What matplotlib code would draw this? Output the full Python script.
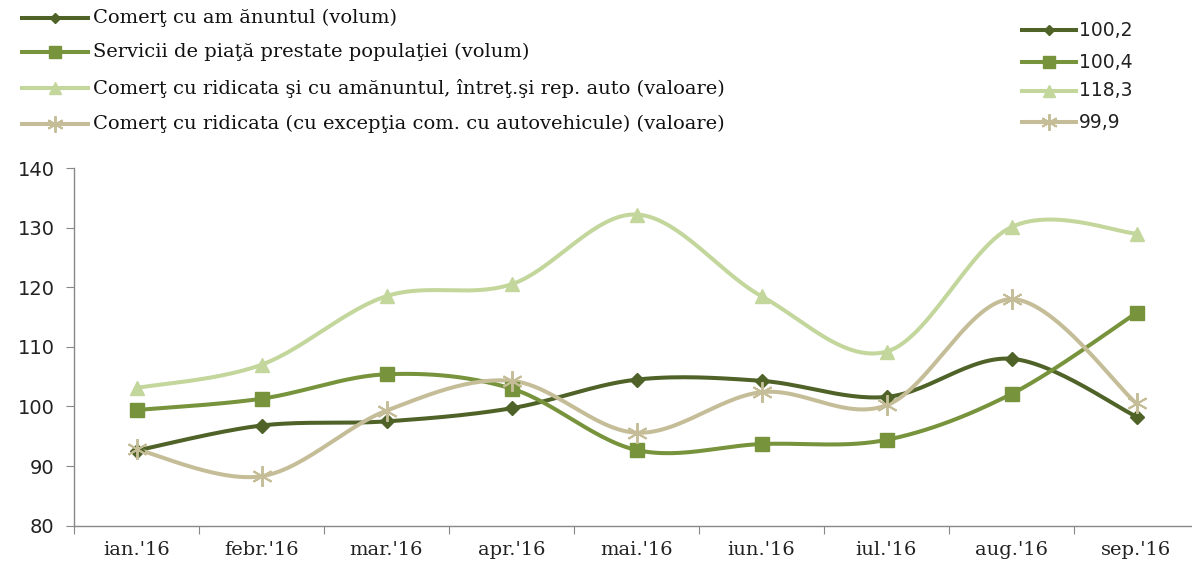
import numpy as np
import matplotlib
matplotlib.use("Agg")
import matplotlib.pyplot as plt
from matplotlib.lines import Line2D

categories = ["ian.'16", "febr.'16", "mar.'16", "apr.'16", "mai.'16", "iun.'16", "iul.'16", "aug.'16", "sep.'16"]
series_names = [
    "Comerţ cu am ănuntul (volum)",
    "Servicii de piaţă prestate populaţiei (volum)",
    "Comerţ cu ridicata şi cu amănuntul, întreţ.şi rep. auto (valoare)",
    "Comerţ cu ridicata (cu excepţia com. cu autovehicule) (valoare)",
]
latest_values = ["100,2", "100,4", "118,3", "99,9"]
retail_volume = [92.6, 96.8, 97.5, 99.7, 104.5, 104.3, 101.6, 108.0, 98.3]
services_volume = [99.4, 101.3, 105.4, 103.0, 92.7, 93.7, 94.4, 102.1, 115.7]
wholesale_retail_value = [103.1, 107.0, 118.5, 120.5, 132.2, 118.5, 109.2, 130.1, 129.0]
wholesale_value = [92.8, 88.3, 99.3, 104.3, 95.6, 102.4, 100.2, 118.0, 100.5]
y_ticks = [80, 90, 100, 110, 120, 130, 140]

colors = ["#4F6228", "#77933C", "#C3D69B", "#C4BD97"]
markers = ["D", "s", "^", (6, 2, 0)]
msizes = [7, 10, 10, 15]
medge = [1, 1, 1, 1.4]
series = [retail_volume, services_volume, wholesale_retail_value, wholesale_value]


def smooth(x, y, n=30):
    x = np.asarray(x, float)
    y = np.asarray(y, float)
    xs, ys = [], []
    m = len(x)
    for i in range(m - 1):
        p0 = np.array([x[max(i - 1, 0)], y[max(i - 1, 0)]])
        p1 = np.array([x[i], y[i]])
        p2 = np.array([x[i + 1], y[i + 1]])
        p3 = np.array([x[min(i + 2, m - 1)], y[min(i + 2, m - 1)]])
        c1 = p1 + (p2 - p0) / 6.0
        c2 = p2 - (p3 - p1) / 6.0
        t = np.linspace(0, 1, n)[:, None]
        pts = ((1 - t) ** 3) * p1 + 3 * ((1 - t) ** 2) * t * c1 + 3 * (1 - t) * t ** 2 * c2 + t ** 3 * p2
        xs.extend(pts[:, 0]); ys.extend(pts[:, 1])
    return xs, ys


fig = plt.figure(figsize=(11.92, 5.63), dpi=100)
ax = fig.add_axes([74 / 1192, 1 - 525.7 / 563, (1199 - 74) / 1192, (525.7 - 168) / 563])

xpos = np.arange(len(categories)) + 0.5
for vals, c, mk, ms, me in zip(series, colors, markers, msizes, medge):
    sx, sy = smooth(xpos, vals)
    ax.plot(sx, sy, color=c, lw=2.9, solid_capstyle="round", zorder=2)
    ax.plot(xpos, vals, linestyle="none", marker=mk, markersize=ms, color=c,
            markeredgecolor=c, markeredgewidth=me, zorder=3)

ax.set_xlim(0, len(categories))
ax.set_ylim(80, 140)
ax.set_yticks(y_ticks)
ax.set_yticklabels([str(v) for v in y_ticks], fontsize=14, family="DejaVu Sans", color="#222222")
ax.set_xticks(np.arange(len(categories) + 1))
ax.set_xticklabels([])
ax.set_xticks(xpos, minor=True)
ax.set_xticklabels(categories, minor=True, fontsize=14, family="DejaVu Serif", color="#222222")
ax.tick_params(axis="x", which="minor", length=0, pad=11)
ax.tick_params(axis="x", which="major", length=6, color="#888888", direction="out")
ax.tick_params(axis="y", length=6, color="#888888", direction="out", pad=8)
for s in ["top", "right"]:
    ax.spines[s].set_visible(False)
for s in ["left", "bottom"]:
    ax.spines[s].set_color("#888888")
    ax.spines[s].set_linewidth(1.0)

W, H = 1192, 563
# left legend
rows_left = [18, 52, 88, 124]
for name, c, mk, ms, me, yy in zip(series_names, colors, markers, msizes, medge, rows_left):
    fy = 1 - yy / H
    fig.add_artist(Line2D([22 / W, 88 / W], [fy, fy], color=c, lw=2.9, transform=fig.transFigure))
    fig.add_artist(Line2D([55 / W], [fy], marker=mk, markersize=ms * 0.8, color=c, linestyle="none",
                          markeredgewidth=me, transform=fig.transFigure))
    fig.text(93 / W, fy, name, fontsize=14, family="DejaVu Serif", va="center", ha="left",
             color="#111111")

# right legend
rows_right = [30, 62, 91, 122]
for val, c, mk, ms, me, yy in zip(latest_values, colors, markers, msizes, medge, rows_right):
    fy = 1 - yy / H
    fig.add_artist(Line2D([1022 / W, 1076 / W], [fy, fy], color=c, lw=2.9, transform=fig.transFigure))
    fig.add_artist(Line2D([1049 / W], [fy], marker=mk, markersize=ms * 0.8, color=c, linestyle="none",
                          markeredgewidth=me, transform=fig.transFigure))
    fig.text(1079 / W, fy, val, fontsize=13.5, family="DejaVu Sans", va="center", ha="left",
             color="#222222")

fig.savefig("out.png", dpi=100)
